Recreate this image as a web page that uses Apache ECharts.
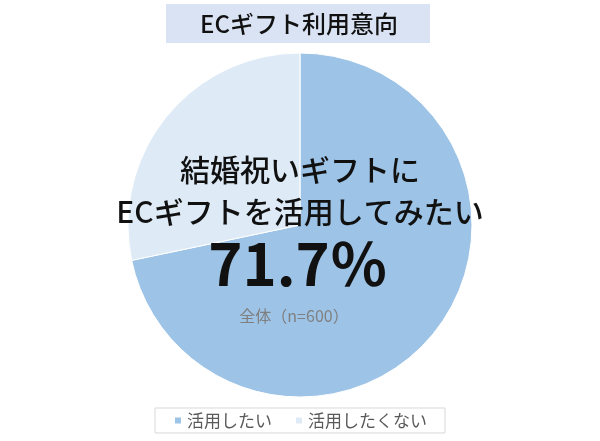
<!DOCTYPE html>
<html><head><meta charset="utf-8">
<script src="https://cdn.jsdelivr.net/npm/echarts@6/dist/echarts.min.js"></script>
<style>html,body{margin:0;padding:0;background:#fff}#c{width:600px;height:441px}</style>
</head><body><div id="c"></div>
<script>
const categories = ['活用したい', '活用したくない'];
const values = [71.7, 28.3];
const colors = ['#9DC3E6', '#DEEBF7'];
const titleText = 'ECギフト利用意向';
const centerLine1 = '結婚祝いギフトに';
const centerLine2 = 'ECギフトを活用してみたい';
const centerValue = '71.7％';
const sampleNote = '全体（n=600）';

const FONT = '"Noto Sans CJK JP", "Noto Sans", sans-serif';
const chart = echarts.init(document.getElementById('c'), null, {renderer: 'canvas'});
chart.setOption({
  animation: false,
  backgroundColor: '#fff',
  color: colors,
  graphic: [
    {type: 'rect', shape: {x: 166, y: 4, width: 264, height: 39}, style: {fill: '#DAE3F3'}, z: 1},
    {type: 'text', x: 299, y: 24, style: {text: titleText, font: '500 24px ' + FONT, fill: '#111', align: 'center', verticalAlign: 'middle'}, z: 2},
    {type: 'text', x: 300, y: 170, style: {text: centerLine1, font: '500 30px ' + FONT, fill: '#111', align: 'center', verticalAlign: 'middle'}, z: 10},
    {type: 'text', x: 300, y: 212, style: {text: centerLine2, font: '500 30px ' + FONT, fill: '#111', align: 'center', verticalAlign: 'middle'}, z: 10},
    {type: 'text', x: 298, y: 264, style: {text: centerValue, font: 'bold 58px ' + FONT, fill: '#111', align: 'center', verticalAlign: 'middle'}, z: 10},
    {type: 'text', x: 294, y: 316, style: {text: sampleNote, font: '16px ' + FONT, fill: '#7F7F7F', align: 'center', verticalAlign: 'middle'}, z: 10}
  ],
  legend: {
    data: categories,
    left: 'center',
    top: 408,
    icon: 'rect',
    itemWidth: 8,
    itemHeight: 8,
    itemGap: 22,
    padding: [4, 18],
    borderColor: '#D9D9D9',
    borderWidth: 1,
    textStyle: {fontFamily: FONT, fontSize: 17, color: '#595959'},
    selectedMode: false
  },
  series: [{
    type: 'pie',
    center: [300, 225],
    radius: [0, 172],
    startAngle: 90,
    clockwise: true,
    label: {show: false},
    labelLine: {show: false},
    emphasis: {disabled: true},
    itemStyle: {borderColor: '#fff', borderWidth: 1},
    data: categories.map((n, i) => ({name: n, value: values[i]}))
  }]
});
</script></body></html>
